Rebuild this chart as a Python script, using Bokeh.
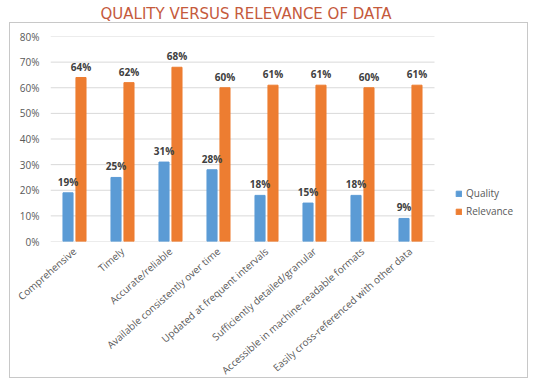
from bokeh.plotting import figure
from bokeh.models import ColumnDataSource, Range1d, NumeralTickFormatter, Legend, LegendItem, FixedTicker, InlineStyleSheet
from bokeh.core.properties import value
from bokeh.embed import file_html
from bokeh.resources import INLINE

categories = ["Comprehensive", "Timely", "Accurate/reliable", "Available consistently over time",
              "Updated at frequent intervals", "Sufficiently detailed/granular",
              "Accessible in machine-readable formats", "Easily cross-referenced with other data"]
quality = [0.19, 0.25, 0.31, 0.28, 0.18, 0.15, 0.18, 0.09]
relevance = [0.64, 0.62, 0.68, 0.60, 0.61, 0.61, 0.60, 0.61]
quality_labels = ["19%", "25%", "31%", "28%", "18%", "15%", "18%", "9%"]
relevance_labels = ["64%", "62%", "68%", "60%", "61%", "61%", "60%", "61%"]
y_ticks = [0, 0.1, 0.2, 0.3, 0.4, 0.5, 0.6, 0.7, 0.8]

n = len(categories)
centers = [i + 0.5 for i in range(n)]
OFF, W = 0.135, 0.21
src = ColumnDataSource(dict(xq=[c - OFF for c in centers], xr=[c + OFF for c in centers],
                            q=quality, r=relevance, ql=quality_labels, rl=relevance_labels))

FONT = "Open Sans"
p = figure(x_range=Range1d(0, 10), y_range=Range1d(0, 0.8), width=533, height=393,
           output_backend="svg", toolbar_location=None,
           min_border_left=50, min_border_right=3, min_border_top=44, min_border_bottom=138)
p.outline_line_color = None
p.title.text = "QUALITY VERSUS RELEVANCE OF DATA"
p.title.align = "left"
p.title.offset = 50
p.title.vertical_align = "top"
p.title.text_color = "#C55A3C"
p.title.text_font = "DejaVu Sans"
p.title.text_font_style = "normal"
p.title.text_font_size = "15px"
p.title.standoff = 23

# horizontal gridlines limited to the category area
p.segment(x0=0, x1=n, y0=y_ticks, y1=y_ticks, line_color="#D9D9D9", line_width=1)

qb = p.vbar(x="xq", top="q", width=W, source=src, color="#5B9BD5")
rb = p.vbar(x="xr", top="r", width=W, source=src, color="#ED7D31")

for xc, col, lab in [("xq", "q", "ql"), ("xr", "r", "rl")]:
    p.text(x=xc, y=col, text=lab, source=src,
           text_align="center", text_baseline="bottom", y_offset=-4,
           text_font=value(FONT), text_font_size="10px", text_font_style="bold", text_color="#404040")

p.yaxis.ticker = FixedTicker(ticks=y_ticks)
p.yaxis.formatter = NumeralTickFormatter(format="0%")
p.xaxis.ticker = FixedTicker(ticks=centers)
p.xaxis.major_label_overrides = {c: cat for c, cat in zip(centers, categories)}
for ax in (p.xaxis[0], p.yaxis[0]):
    ax.axis_line_color = None
    ax.major_tick_line_color = None
    ax.minor_tick_line_color = None
    ax.major_tick_out = 0
    ax.minor_tick_out = 0
    ax.major_label_text_color = "#595959"
    ax.major_label_text_font = FONT
    ax.major_label_text_font_size = "10px"
p.yaxis.major_label_standoff = 11
p.xaxis.major_label_orientation = 0.72
p.xaxis.major_label_standoff = 8
p.xgrid.grid_line_color = None
p.ygrid.grid_line_color = None

legend = Legend(items=[LegendItem(label="Quality", renderers=[qb]), LegendItem(label="Relevance", renderers=[rb])],
                location=(405, 23), padding=0, margin=0, spacing=4, glyph_width=7, glyph_height=7,
                label_height=14, label_standoff=4, background_fill_alpha=0, border_line_color=None,
                label_text_font=FONT, label_text_font_size="10px", label_text_color="#595959")
p.add_layout(legend)

p.stylesheets = [InlineStyleSheet(css=":host { margin-top: -8px !important; } "
                                      ":host::after { content: ''; position: absolute; left: 9px; top: 30px; "
                                      "width: 517px; height: 354px; border: 1px solid #C8C8C8; pointer-events: none; }")]

open("out.html", "w").write(file_html(p, INLINE))
